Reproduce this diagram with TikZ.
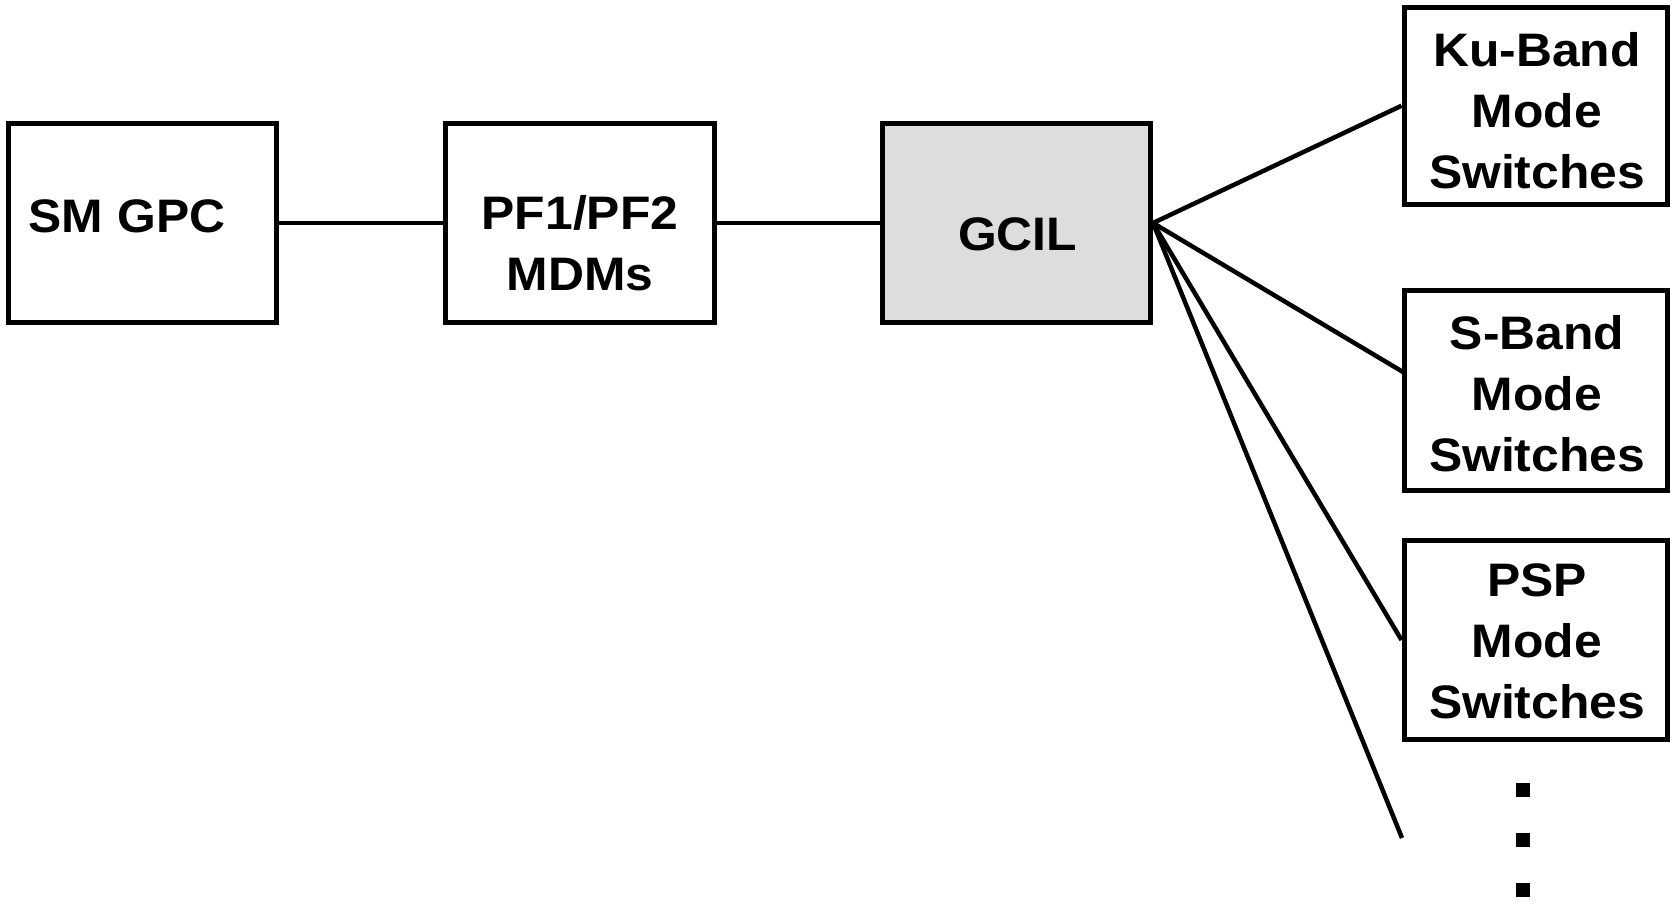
\documentclass[tikz,border=0pt]{standalone}
\usepackage{fontspec}
\setmainfont{Liberation Sans}[FakeStretch=1.06]
\definecolor{boxgray}{HTML}{DDDDDD}
\begin{document}
\begin{tikzpicture}[x=1pt,y=-1pt,
  blk/.style={draw=black, line width=5pt, rectangle, inner sep=0pt},
  lbl/.style={align=center, inner sep=0pt, font=\fontsize{47}{61}\selectfont\bfseries},
  wire/.style={draw=black, line width=4.5pt},
  dotsq/.style={fill=black, minimum size=14pt, inner sep=0pt, rectangle}]
\useasboundingbox (0,0) rectangle (1670,904);
% boxes
\node[blk, minimum width=268pt, minimum height=198pt] (sm) at (142.5,223) {};
\node[blk, minimum width=269pt, minimum height=198pt] (pf) at (580,223) {};
\node[blk, fill=boxgray, minimum width=268pt, minimum height=198pt] (gcil) at (1016.5,223) {};
\node[blk, minimum width=263pt, minimum height=197pt] (ku) at (1535.5,105.75) {};
\node[blk, minimum width=263pt, minimum height=200pt] (sb) at (1535.5,390) {};
\node[blk, minimum width=263pt, minimum height=199pt] (psp) at (1535.5,640) {};
% labels
\node[lbl] (smt) at (127,216) {SM GPC};
\node[lbl] (pft) at (580,243.5) {PF1/PF2\\MDMs};
\node[lbl] (gcilt) at (1017.5,234) {GCIL};
\node[lbl] (kut) at (1537,111) {Ku-Band\\Mode\\Switches};
\node[lbl] (sbt) at (1537,394) {S-Band\\Mode\\Switches};
\node[lbl] (pspt) at (1537,641) {PSP\\Mode\\Switches};
% dots
\node[dotsq] (d1) at (1523,790) {};
\node[dotsq] (d2) at (1523,840) {};
\node[dotsq] (d3) at (1523,890) {};
% connectors
\coordinate (sbin) at (1403,372);
\coordinate (more) at (1402,838);
\draw[wire] (sm.east) -- (pf.west);
\draw[wire] (pf.east) -- (gcil.west);
\draw[wire] (gcil.east) -- (ku.west);
\draw[wire] (gcil.east) -- (sbin);
\draw[wire] (gcil.east) -- (psp.west);
\draw[wire] (gcil.east) -- (more);
\end{tikzpicture}
\end{document}
